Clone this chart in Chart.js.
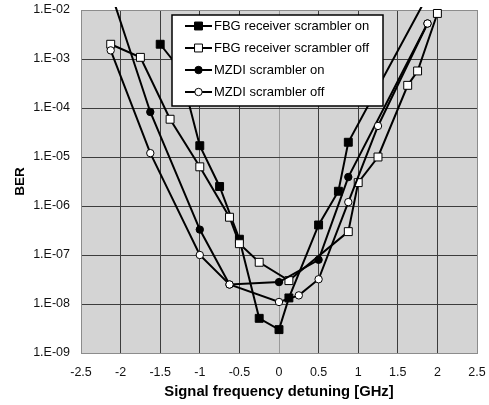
<!DOCTYPE html>
<html><head><meta charset="utf-8">
<script src="https://cdn.jsdelivr.net/npm/chart.js@4/dist/chart.umd.min.js"></script>
<style>html,body{margin:0;padding:0;background:#fff;}canvas{display:block;}</style>
</head><body>
<canvas id="c" width="489" height="405"></canvas>
<script>
// ---- data ----
const seriesNames = ['FBG receiver scrambler on', 'FBG receiver scrambler off', 'MZDI scrambler on', 'MZDI scrambler off'];

const fbgOnX  = [-1.5, -1.25, -1.0, -0.75, -0.5, -0.25, 0, 0.125, 0.5, 0.75, 0.875, 2.0];
const fbgOnY  = [2e-3, 6.2e-4, 1.7e-5, 2.5e-6, 2.1e-7, 5.1e-9, 3e-9, 1.33e-8, 4.1e-7, 2e-6, 2e-5, 4.6e-2];

const fbgOffX = [-2.125, -1.75, -1.375, -1.0, -0.625, -0.5, -0.25, 0.125, 0.875, 1.0, 1.25, 1.625, 1.75, 2.0];
const fbgOffY = [2e-3, 1.08e-3, 5.9e-5, 6.3e-6, 5.9e-7, 1.7e-7, 7.1e-8, 3e-8, 3e-7, 3e-6, 1e-5, 2.9e-4, 5.7e-4, 8.5e-3];

const mzdiOnX = [-2.125, -1.625, -1.0, -0.625, 0, 0.5, 0.875, 1.875];
const mzdiOnY = [2.35e-2, 8.3e-5, 3.3e-7, 2.5e-8, 2.8e-8, 8e-8, 3.9e-6, 5.3e-3];

const mzdiOffX = [-2.125, -1.625, -1.0, -0.625, 0, 0.25, 0.5, 0.875, 1.25, 1.875];
const mzdiOffY = [1.5e-3, 1.2e-5, 1e-7, 2.5e-8, 1.1e-8, 1.5e-8, 3.2e-8, 1.2e-6, 4.3e-5, 5.3e-3];

const xTickLabels = ['-2.5', '-2', '-1.5', '-1', '-0.5', '0', '0.5', '1', '1.5', '2', '2.5'];
const yTickValues = [1e-9, 1e-8, 1e-7, 1e-6, 1e-5, 1e-4, 1e-3, 1e-2];
const yTickLabels = ['1.E-09', '1.E-08', '1.E-07', '1.E-06', '1.E-05', '1.E-04', '1.E-03', '1.E-02'];

const xTitle = 'Signal frequency detuning [GHz]';
const yTitle = 'BER';

// ---- build ----
const pts = (xs, ys) => xs.map((x, i) => ({x: x, y: ys[i]}));
const FONT = '"Liberation Sans", Arial, sans-serif';
const GRID = '#3c3c3c', EDGE = '#8c8c8c';

function mk(label, data, style, fill, radius, order) {
  return {
    label, data, order,
    borderColor: '#000', borderWidth: 2, showLine: true, tension: 0,
    pointStyle: style, pointRadius: radius, pointHoverRadius: radius,
    pointBackgroundColor: fill, pointBorderColor: '#000', pointBorderWidth: 1,
    clip: {left: 0, top: 3, right: 0, bottom: 0}
  };
}

const datasets = [
  mk(seriesNames[0], pts(fbgOnX, fbgOnY), 'rect', '#000', 5.6, 3),
  mk(seriesNames[1], pts(fbgOffX, fbgOffY), 'rect', '#fff', 5.6, 2),
  mk(seriesNames[2], pts(mzdiOnX, mzdiOnY), 'circle', '#000', 3.7, 1),
  mk(seriesNames[3], pts(mzdiOffX, mzdiOffY), 'circle', '#fff', 3.7, 0)
];

const areaPlugin = {
  id: 'area',
  beforeDraw(chart) {
    const {ctx, chartArea: a} = chart;
    ctx.save();
    ctx.fillStyle = '#d4d4d4';
    ctx.fillRect(a.left, a.top, a.right - a.left, a.bottom - a.top);
    ctx.restore();
  },
  afterDatasetsDraw(chart) {
    const {ctx, chartArea: a} = chart;
    ctx.save();
    const bx = a.left + 91, by = a.top + 5, bw = 211, bh = 91;
    ctx.fillStyle = '#fff';
    ctx.fillRect(bx, by, bw, bh);
    ctx.strokeStyle = '#000';
    ctx.lineWidth = 1.5;
    ctx.strokeRect(bx, by, bw, bh);
    ctx.font = '13px ' + FONT;
    ctx.textBaseline = 'middle';
    ctx.textAlign = 'left';
    chart.data.datasets.forEach((ds, i) => {
      const y = by + 11 + i * 22;
      ctx.beginPath();
      ctx.moveTo(bx + 13, y);
      ctx.lineTo(bx + 40, y);
      ctx.strokeStyle = ds.borderColor;
      ctx.lineWidth = ds.borderWidth;
      ctx.stroke();
      const mx = bx + 26.5;
      ctx.fillStyle = ds.pointBackgroundColor;
      ctx.strokeStyle = ds.pointBorderColor;
      ctx.lineWidth = ds.pointBorderWidth;
      ctx.beginPath();
      if (ds.pointStyle === 'rect') {
        const s = ds.pointRadius * Math.SQRT1_2;
        ctx.rect(mx - s, y - s, 2 * s, 2 * s);
      } else {
        ctx.arc(mx, y, ds.pointRadius, 0, Math.PI * 2);
      }
      ctx.fill();
      ctx.stroke();
      ctx.fillStyle = '#000';
      ctx.fillText(ds.label, bx + 42, y + 0.5);
    });
    ctx.restore();
  }
};

const edgeColor = (ctx) => {
  const n = ctx.scale.ticks.length;
  if (ctx.index === 0 || ctx.index === n - 1) return EDGE;
  if (ctx.scale.axis === 'x' && ctx.tick && ctx.tick.value === 0) return '#9a9a9a';
  return GRID;
};

new Chart(document.getElementById('c'), {
  type: 'scatter',
  data: {datasets},
  plugins: [areaPlugin],
  options: {
    responsive: false,
    devicePixelRatio: 1,
    animation: false,
    layout: {padding: {top: 10, right: 12, left: 0, bottom: 0}},
    plugins: {legend: {display: false}, tooltip: {enabled: false}},
    scales: {
      x: {
        type: 'linear', min: -2.5, max: 2.5,
        ticks: {stepSize: 0.5, padding: 12, color: '#111', font: {family: FONT, size: 12.5},
                callback: (v, i) => xTickLabels[i], maxRotation: 0, autoSkip: false},
        grid: {color: edgeColor, lineWidth: 1, drawTicks: false},
        border: {display: true, color: EDGE, width: 1},
        title: {display: true, text: xTitle, color: '#000', font: {family: FONT, size: 14.8, weight: 'bold'},
                padding: {top: 0, bottom: 4}},
        afterFit: (s) => { s.height = 52; s.paddingLeft = 0; s.paddingRight = 0; }
      },
      y: {
        type: 'logarithmic', min: 1e-9, max: 1e-2,
        afterBuildTicks: (s) => { s.ticks = yTickValues.map(v => ({value: v})); },
        ticks: {padding: 11, color: '#111', font: {family: FONT, size: 12.5},
                callback: (v, i) => yTickLabels[i], autoSkip: false},
        grid: {color: edgeColor, lineWidth: 1, drawTicks: false},
        border: {display: true, color: EDGE, width: 1},
        title: {display: true, text: yTitle, color: '#000', font: {family: FONT, size: 13.5, weight: 'bold'},
                padding: {top: 12, bottom: 0}},
        afterFit: (s) => { s.width = 81; s.paddingTop = 0; s.paddingBottom = 0; }
      }
    }
  }
});
</script>
</body></html>
